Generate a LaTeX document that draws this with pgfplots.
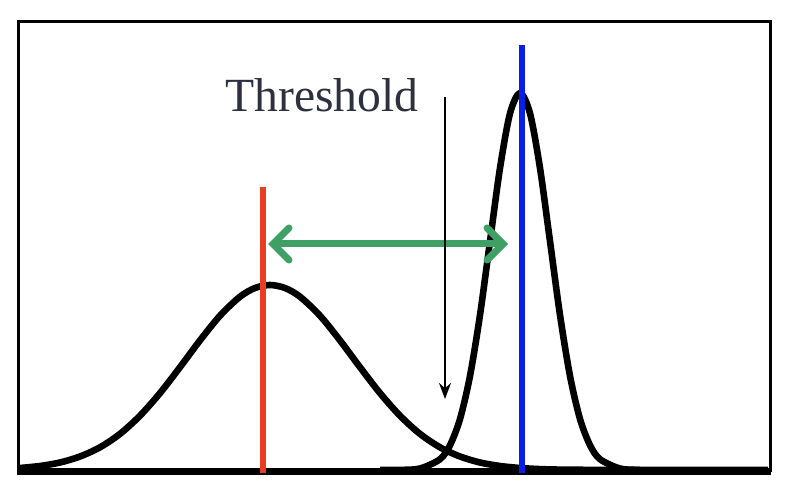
\documentclass[border=0pt]{standalone}
\usepackage{fontspec}
\setmainfont{Liberation Serif}
\usepackage{pgfplots}
\pgfplotsset{compat=1.18}
\usetikzlibrary{arrows.meta}

\definecolor{curvegreen}{RGB}{62,160,100}
\definecolor{meanred}{RGB}{232,62,32}
\definecolor{meanblue}{RGB}{10,30,230}
\definecolor{txtgray}{RGB}{45,48,62}

% wide distribution (sigma ~ 83 px)
\pgfplotstableread{
x y
20 24.0
40 26.0
60 29.5
80 35.5
100 44.7
120 58.1
140 76.3
160 98.9
180 124.8
200 151.6
220 176.3
240 195.3
255 204.0
270 207.0
285 204.0
300 195.3
320 176.3
340 151.6
360 124.8
380 98.9
400 76.3
420 58.1
440 44.7
460 35.5
480 29.5
500 26.0
520 24.0
540 22.9
560 22.4
600 22.1
640 22.0
}\wide

% narrow distribution (sigma ~ 30 px)
\pgfplotstableread{
x y
380 22.0
400 22.1
420 23.5
440 32.8
450 46.8
460 73.0
470 116.0
480 177.0
490 250.7
500 323.9
510 378.6
520 399.0
530 378.6
540 323.9
550 250.7
560 177.0
570 116.0
580 73.0
590 46.8
600 32.8
620 23.5
640 22.1
680 22.0
768 22.0
}\narrow

\begin{document}
\begin{tikzpicture}
\begin{axis}[
    scale only axis,
    width=393pt, height=246pt,
    xmin=0, xmax=786, ymin=0, ymax=492,
    hide axis,
    clip=false,
]
\addplot[draw=none] coordinates {(0,0) (786,492)};
% frame
\addplot[black, line width=1.5pt] coordinates {(18,20) (18,470) (770,470) (770,20)};
\addplot[black, line width=3.5pt] coordinates {(17,20.5) (771,20.5)};
% distributions
\addplot[black, line width=3.3pt, smooth, line join=round] table {\wide};
\addplot[black, line width=3.3pt, smooth, line join=round] table {\narrow};
% means
\addplot[meanred, line width=3pt] coordinates {(263,19) (263,305)};
\addplot[meanblue, line width=3pt] coordinates {(522,19) (522,447)};
% distance between means
\addplot[curvegreen, line width=3.5pt,
    {Straight Barb[length=8pt,width=16pt,line cap=round]}-{Straight Barb[length=8pt,width=16pt,line cap=round]}]
    coordinates {(268,248) (508,248)};
% threshold marker
\addplot[black, line width=1pt, -{Stealth[length=8pt,width=6pt]}] coordinates {(445,395) (445,93)};
\node[anchor=base west, inner sep=0pt, text=txtgray, font=\fontsize{23.8}{28}\selectfont]
    at (axis cs:225,380) {Threshold};
\end{axis}
\end{tikzpicture}
\end{document}
